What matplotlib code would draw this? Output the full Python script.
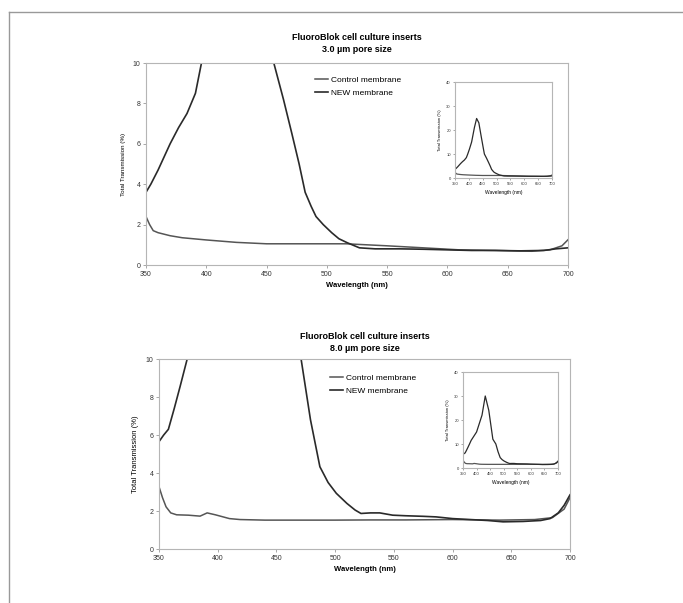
import matplotlib

matplotlib.use("Agg")
import matplotlib.pyplot as plt
from matplotlib.lines import Line2D

plt.rcParams["font.family"] = ["Liberation Sans", "DejaVu Sans"]

# --- data (wavelength in nm, transmission in %) ---
titles = ["FluoroBlok cell culture inserts\n3.0 µm pore size",
          "FluoroBlok cell culture inserts\n8.0 µm pore size"]
series_labels = ["Control membrane", "NEW membrane"]

ctrl_nm_3 = [350, 353, 356, 360, 370, 380, 400, 425, 450, 480, 516, 550, 580,
             610, 640, 670, 685, 695, 700]
ctrl_3 = [2.4, 2.0, 1.7, 1.6, 1.45, 1.35, 1.24, 1.12, 1.05, 1.05, 1.05, 0.95,
          0.85, 0.75, 0.72, 0.68, 0.75, 0.95, 1.25]
new_nm_3 = [350, 354, 360, 365, 370, 377, 384, 391, 396, 402, 410, 420, 428,
            436, 445, 452, 456, 464, 471, 477, 482, 487, 491, 497, 504, 510,
            517, 527, 540, 560, 580, 600, 620, 640, 660, 680, 690, 700]
new_3 = [3.6, 4.0, 4.7, 5.35, 6.0, 6.8, 7.5, 8.5, 10.0, 12.0, 15.0, 21.0, 24.8,
         23.0, 17.0, 12.5, 10.0, 8.2, 6.5, 5.0, 3.6, 2.9, 2.4, 2.0, 1.6, 1.3,
         1.1, 0.85, 0.8, 0.8, 0.78, 0.75, 0.72, 0.72, 0.7, 0.72, 0.8, 0.85]

ctrl_nm_8 = [350, 353, 356, 360, 365, 375, 385, 391, 398, 410, 419, 440, 470,
             500, 530, 560, 600, 640, 670, 685, 695, 700]
ctrl_8 = [3.28, 2.7, 2.22, 1.9, 1.8, 1.78, 1.73, 1.9, 1.8, 1.6, 1.55, 1.52,
          1.52, 1.52, 1.53, 1.53, 1.55, 1.52, 1.55, 1.65, 2.1, 2.7]
new_nm_8 = [350, 354, 358, 363, 368, 374, 380, 400, 420, 432, 445, 460, 471,
            479, 487, 494, 501, 510, 517, 522, 530, 538, 549, 560, 575, 586,
            600, 615, 630, 643, 660, 675, 683, 690, 695, 700]
new_8 = [5.65, 6.0, 6.3, 7.4, 8.56, 10.0, 11.5, 15.0, 22.0, 30.0, 24.0, 12.0,
         10.0, 6.8, 4.33, 3.5, 2.93, 2.4, 2.05, 1.87, 1.9, 1.9, 1.78, 1.75,
         1.72, 1.69, 1.6, 1.55, 1.5, 1.43, 1.45, 1.5, 1.6, 1.9, 2.3, 2.85]

x_ticks = [350, 400, 450, 500, 550, 600, 650, 700]
y_ticks = [0, 2, 4, 6, 8, 10]
inset_y_ticks = [0, 10, 20, 30, 40]

W, H = 683, 603
fig = plt.figure(figsize=(W / 100, H / 100), dpi=100)


def px_axes(left, top, right, bottom):
    return fig.add_axes([left / W, 1 - bottom / H, (right - left) / W, (bottom - top) / H])


def style(ax, size):
    for s in ax.spines.values():
        s.set_color("#b5b5b5")
        s.set_linewidth(0.8)
    ax.tick_params(labelsize=size, length=2, width=0.6, color="#999999",
                   labelcolor="#333333", pad=2)


panels = [
    dict(box=(146, 63, 568, 265), inset=(455, 82, 552, 178), title_y=33,
         legend=(315, 76), ylabel_size=4.5,
         ctrl=(ctrl_nm_3, ctrl_3), new=(new_nm_3, new_3)),
    dict(box=(159, 359, 570, 549), inset=(463, 372, 558, 468), title_y=332,
         legend=(330, 374), ylabel_size=5.5,
         ctrl=(ctrl_nm_8, ctrl_8), new=(new_nm_8, new_8)),
]

for title, p in zip(titles, panels):
    ax = px_axes(*p["box"])
    ax.plot(*p["ctrl"], color="#555555", lw=1.1, label=series_labels[0])
    ax.plot(*p["new"], color="#2a2a2a", lw=1.2, label=series_labels[1])
    ax.set_xlim(350, 700)
    ax.set_ylim(0, 10)
    ax.set_xticks(x_ticks)
    ax.set_yticks(y_ticks)
    style(ax, 5)
    ax.set_xlabel("Wavelength (nm)", fontsize=5.5, fontweight="bold", labelpad=3)
    ax.set_ylabel("Total Transmission (%)", fontsize=p["ylabel_size"], labelpad=5)
    cx = (p["box"][0] + p["box"][2]) / 2
    fig.text(cx / W, 1 - p["title_y"] / H, title, ha="center", va="top",
             fontsize=6.5, fontweight="bold", linespacing=1.4)
    lx, ly = p["legend"]
    ax.legend(loc="upper left", bbox_to_anchor=(lx / W, 1 - ly / H),
              bbox_transform=fig.transFigure, frameon=False, fontsize=6,
              handlelength=1.5, handletextpad=0.4, borderpad=0, borderaxespad=0,
              labelspacing=0.6)

    ins = px_axes(*p["inset"])
    ins.plot(*p["ctrl"], color="#555555", lw=0.9)
    ins.plot(*p["new"], color="#2a2a2a", lw=0.9)
    ins.set_xlim(350, 700)
    ins.set_ylim(0, 40)
    ins.set_xticks(x_ticks)
    ins.set_yticks(inset_y_ticks)
    style(ins, 3)
    ins.tick_params(length=1.5, pad=1.5)
    ins.set_xlabel("Wavelength (nm)", fontsize=3.5, labelpad=3)
    ins.set_ylabel("Total Transmission (%)", fontsize=3, labelpad=3)

# partial page frame
fig.add_artist(Line2D([9 / W, 9 / W], [1 - 12 / H, 0], color="#999999", lw=1))
fig.add_artist(Line2D([9 / W, 1], [1 - 12 / H, 1 - 12 / H], color="#999999", lw=1))

fig.savefig("out.png", dpi=100)
plt.close(fig)
